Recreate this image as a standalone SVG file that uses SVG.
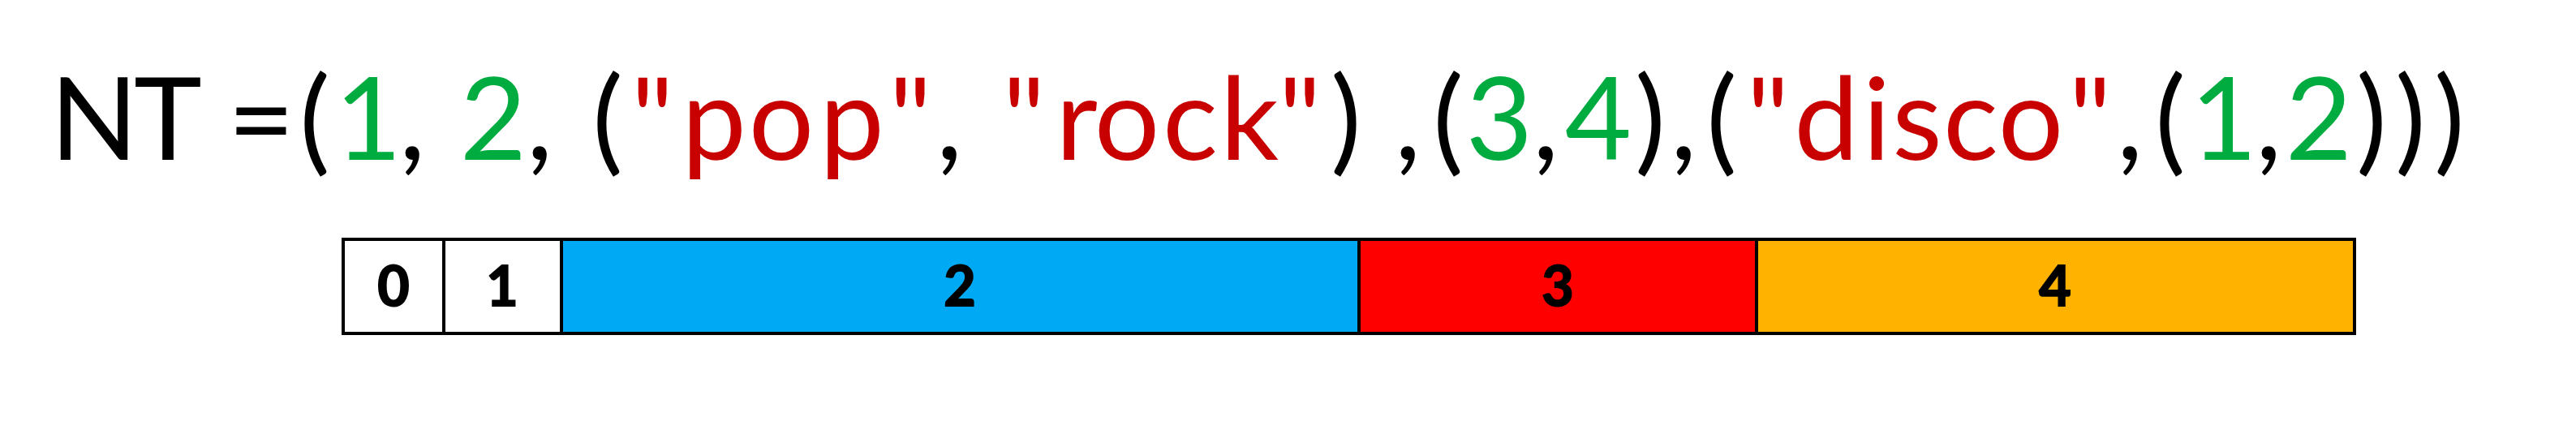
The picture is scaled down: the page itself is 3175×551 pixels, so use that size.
<svg xmlns="http://www.w3.org/2000/svg" width="3175" height="551" viewBox="0 0 3175 551">
<style>
.expr{font-family:Lato,"Open Sans","Liberation Sans",sans-serif;font-size:142px;text-anchor:middle}
.k{fill:#000000}
.g{fill:#00AC40}
.r{fill:#C80000}
.cell{stroke:#000000;stroke-width:4}
.lbl{font-family:Lato,"Open Sans","Liberation Sans",sans-serif;font-weight:bold;font-size:68px;text-anchor:middle;fill:#000000;stroke:#000000;stroke-width:2}
</style>
<rect width="3175" height="551" fill="#FFFFFF"/>
<g id="expression">
<text class="expr" y="197"><tspan class="k" x="116 207 250 322 388">NT =(</tspan><tspan class="g" x="454">1</tspan><tspan class="k" x="508 540">, </tspan><tspan class="g" x="608">2</tspan><tspan class="k" x="665 700 749">, (</tspan><tspan class="r" x="804 880 963 1050 1122">"pop"</tspan><tspan class="k" x="1170 1205">, </tspan><tspan class="r" x="1262 1327 1389 1467 1540 1602">"rock"</tspan><tspan class="k" x="1659 1695 1735 1785">) ,(</tspan><tspan class="g" x="1848">3</tspan><tspan class="k" x="1905">,</tspan><tspan class="g" x="1970">4</tspan><tspan class="k" x="2034 2075 2122">),(</tspan><tspan class="r" x="2179 2251 2313 2363 2429 2503 2576">"disco"</tspan><tspan class="k" x="2625 2675">,(</tspan><tspan class="g" x="2741">1</tspan><tspan class="k" x="2796">,</tspan><tspan class="g" x="2858">2</tspan><tspan class="k" x="2923 2971 3019">)))</tspan></text>
</g>
<g id="cell0"><rect class="cell" x="423" y="295" width="124" height="116" fill="#FFFFFF"/><text class="lbl" x="485" y="377">0</text></g>
<g id="cell1"><rect class="cell" x="547" y="295" width="145" height="116" fill="#FFFFFF"/><text class="lbl" x="619" y="377">1</text></g>
<g id="cell2"><rect class="cell" x="692" y="295" width="983" height="116" fill="#00A9F4"/><text class="lbl" x="1183" y="377">2</text></g>
<g id="cell3"><rect class="cell" x="1675" y="295" width="490" height="116" fill="#FF0000"/><text class="lbl" x="1920" y="377">3</text></g>
<g id="cell4"><rect class="cell" x="2165" y="295" width="737" height="116" fill="#FFB300"/><text class="lbl" x="2533" y="377">4</text></g>
<g id="connectors"/>
</svg>
